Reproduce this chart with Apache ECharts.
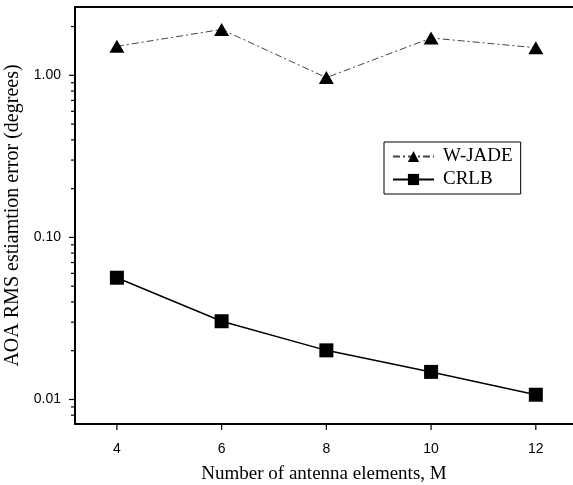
<!DOCTYPE html>
<html>
<head>
<meta charset="utf-8">
<script src="https://cdn.jsdelivr.net/npm/echarts@6/dist/echarts.min.js"></script>
<style>
  html, body { margin: 0; padding: 0; background: #fff; }
  #chart { width: 573px; height: 485px; }
</style>
</head>
<body>
<div id="chart"></div>
<script>
// x categories (number of antenna elements)
const elements = [4, 6, 8, 10, 12];
// RMS error values (degrees)
const wjade = [1.51, 1.92, 0.968, 1.70, 1.48];
const crlb = [0.0564, 0.0304, 0.0201, 0.0148, 0.0107];
// tick values
const xTicks = [4, 6, 8, 10, 12];
const yMajor = [0.01, 0.1, 1];
const yMinor = [2, 0.9, 0.8, 0.7, 0.6, 0.5, 0.4, 0.3, 0.2,
  0.09, 0.08, 0.07, 0.06, 0.05, 0.04, 0.03, 0.02, 0.009, 0.008];

const X_MIN = 3.2, X_MAX = 12.71;
const Y_MIN = 0.00706, Y_MAX = 2.64;

const SANS = "'Liberation Sans', Arial, sans-serif";
const SERIF = "'Liberation Serif', 'Times New Roman', serif";

const chart = echarts.init(document.getElementById("chart"));

// tick marks drawn through the axis scales (outside the plot)
const tickData = []
  .concat(xTicks.map((v) => [v, Y_MIN, 0, 6]))
  .concat(yMajor.map((v) => [X_MIN, v, 1, 6]))
  .concat(yMinor.map((v) => [X_MIN, v, 1, 4]));

function renderTick(params, api) {
  const p = api.coord([api.value(0), api.value(1)]);
  const len = api.value(3);
  const isY = api.value(2) === 1;
  const shape = isY
    ? { x1: p[0] - len, y1: p[1], x2: p[0], y2: p[1] }
    : { x1: p[0], y1: p[1], x2: p[0], y2: p[1] + len };
  return { type: "line", shape: shape, style: { stroke: "#000", lineWidth: 1.2 } };
}

const option = {
  animation: false,
  backgroundColor: "#fff",
  grid: { left: 75, top: 7, right: 0, bottom: 61, outerBoundsMode: "none", containLabel: false },
  legend: {
    orient: "vertical",
    left: 384,
    top: 142,
    padding: [5, 8, 5, 8],
    itemGap: 4,
    itemWidth: 41,
    itemHeight: 14,
    borderColor: "#000",
    borderWidth: 1,
    borderRadius: 0,
    textStyle: { fontFamily: SERIF, fontSize: 19, color: "#000", padding: [0, 0, 0, 4] },
    data: ["W-JADE", "CRLB"],
  },
  xAxis: [
    {
      type: "value",
      min: X_MIN,
      max: X_MAX,
      name: "Number of antenna elements, M",
      nameLocation: "middle",
      nameGap: 41,
      nameTextStyle: { fontFamily: SERIF, fontSize: 19, color: "#000" },
      axisLine: { show: true, lineStyle: { color: "#000", width: 2 } },
      axisTick: { show: false },
      axisLabel: { customValues: xTicks, margin: 18, fontFamily: SANS, fontSize: 14, color: "#000" },
      splitLine: { show: false },
    },
    {
      type: "value",
      position: "top",
      min: X_MIN,
      max: X_MAX,
      axisLine: { show: true, lineStyle: { color: "#000", width: 2 } },
      axisTick: { show: false },
      axisLabel: { show: false },
      splitLine: { show: false },
    },
  ],
  yAxis: [
    {
      type: "log",
      min: Y_MIN,
      max: Y_MAX,
      name: "AOA RMS estiamtion error (degrees)",
      nameLocation: "middle",
      nameGap: 52,
      nameTextStyle: { fontFamily: SERIF, fontSize: 20, color: "#000" },
      axisLine: { show: true, lineStyle: { color: "#000", width: 2 } },
      axisTick: { show: false },
      axisLabel: {
        customValues: yMajor,
        margin: 14,
        fontFamily: SANS,
        fontSize: 14,
        color: "#000",
        formatter: (v) => Number(v).toFixed(2),
      },
      splitLine: { show: false },
    },
  ],
  series: [
    {
      name: "ticks",
      type: "custom",
      clip: false,
      silent: true,
      data: tickData,
      renderItem: renderTick,
      z: 1,
    },
    {
      name: "W-JADE",
      type: "line",
      data: elements.map((x, i) => [x, wjade[i]]),
      symbol: "triangle",
      symbolSize: [15, 13],
      itemStyle: { color: "#000" },
      lineStyle: { color: "#444", width: 1, type: [7, 3, 2, 3] },
    },
    {
      name: "CRLB",
      type: "line",
      data: elements.map((x, i) => [x, crlb[i]]),
      symbol: "rect",
      symbolSize: 14,
      itemStyle: { color: "#000" },
      lineStyle: { color: "#000", width: 1.5 },
    },
  ],
};

chart.setOption(option);
</script>
</body>
</html>
